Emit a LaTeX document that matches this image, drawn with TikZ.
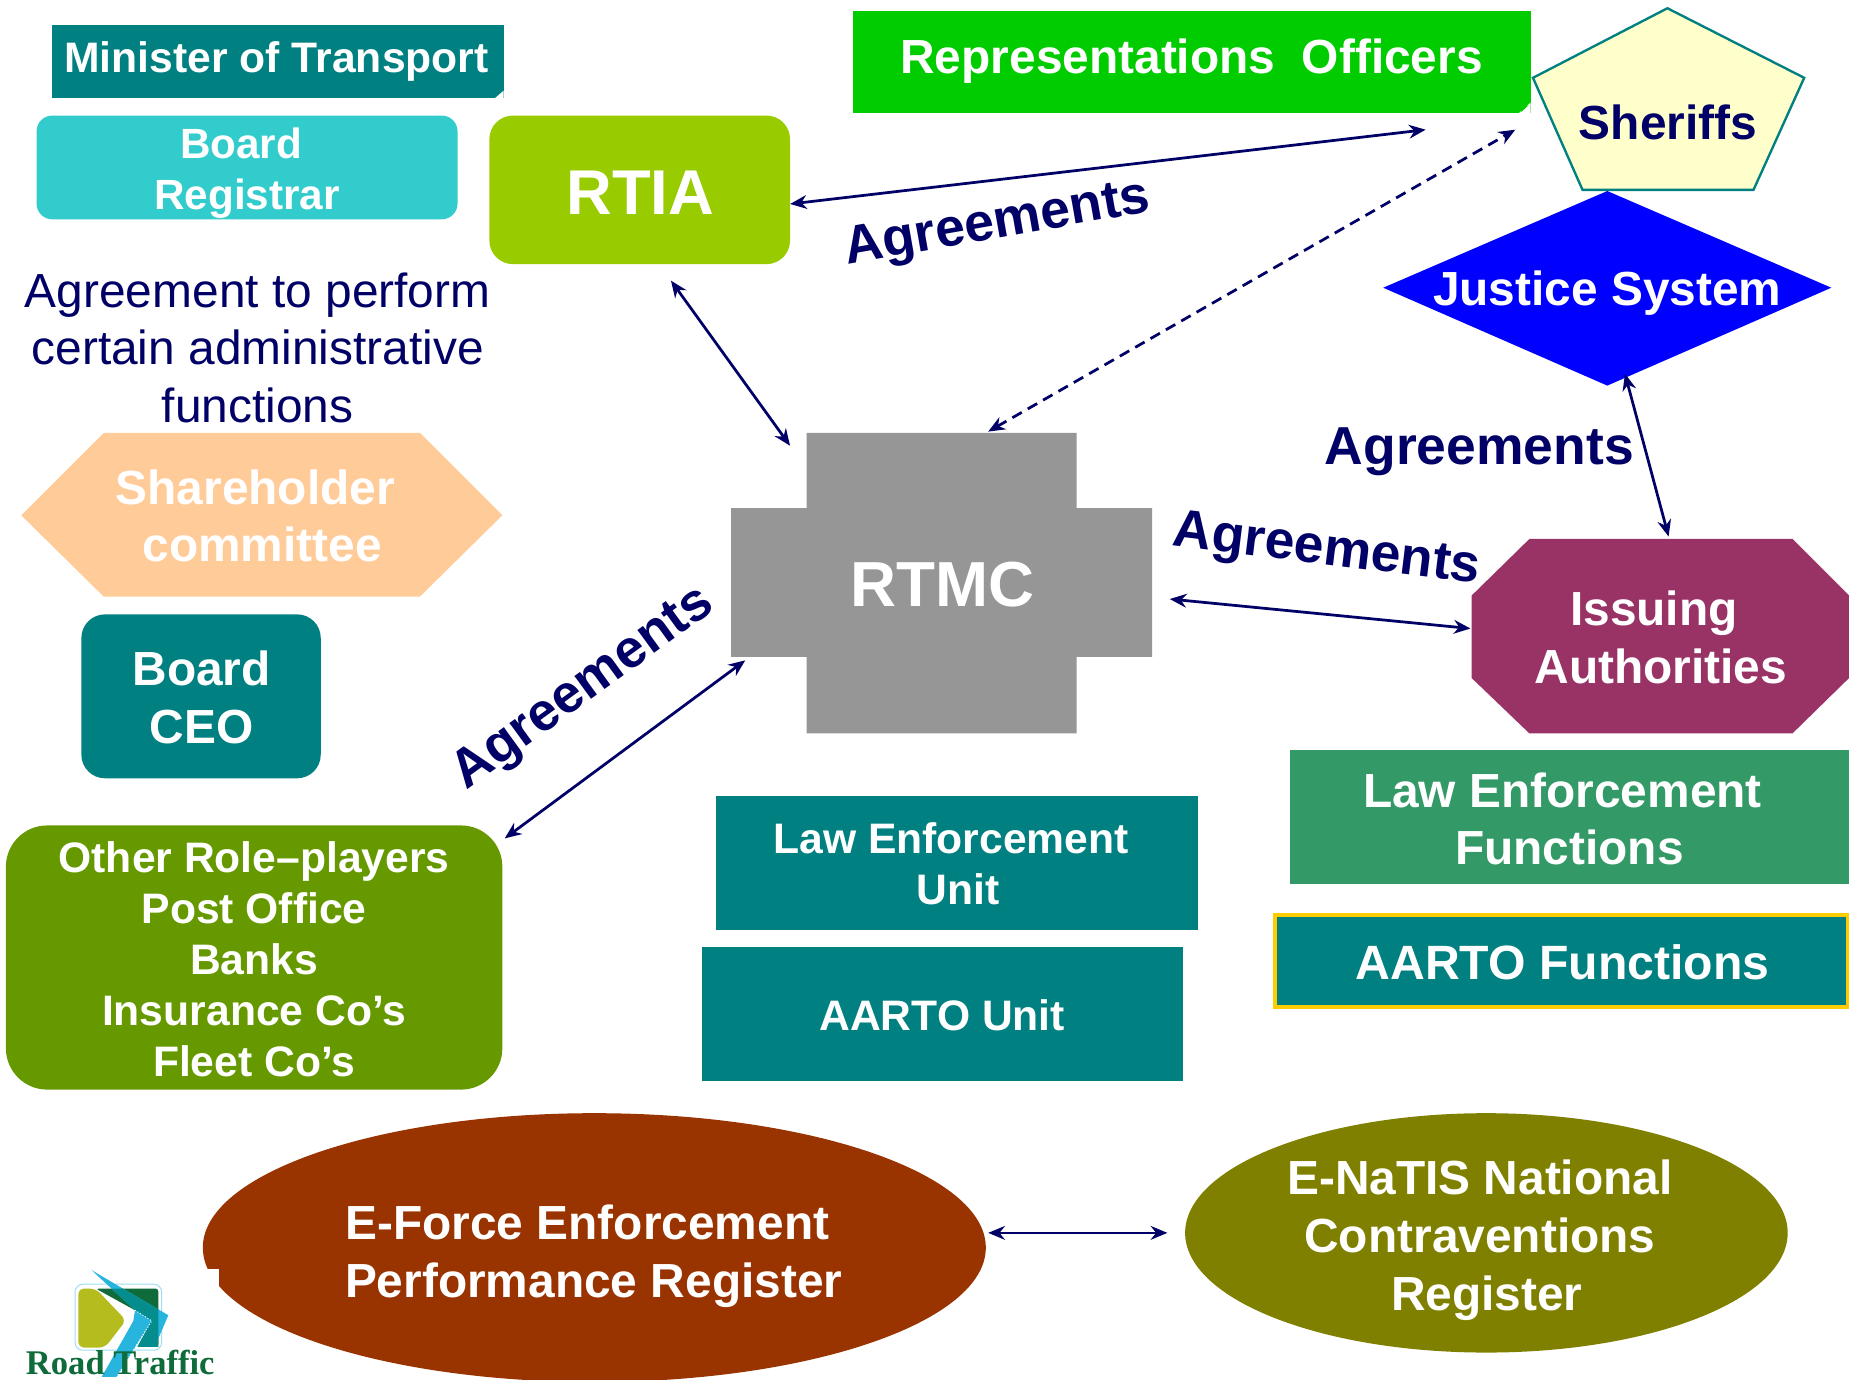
\documentclass[tikz,border=0pt]{standalone}
\usepackage{fontspec}
\setmainfont{Liberation Sans}
\newfontfamily\logofont{Liberation Serif}
\usetikzlibrary{arrows.meta,shapes.geometric}
\definecolor{tealc}{HTML}{008080}
\definecolor{navyc}{HTML}{000066}
\definecolor{regc}{HTML}{33CCCC}
\definecolor{rtiac}{HTML}{99CC00}
\definecolor{repc}{HTML}{00CC00}
\definecolor{sherc}{HTML}{FFFFCC}
\definecolor{shareh}{HTML}{FFCC99}
\definecolor{grayc}{HTML}{969696}
\definecolor{issc}{HTML}{993366}
\definecolor{lawc}{HTML}{339966}
\definecolor{goldc}{HTML}{FFCC00}
\definecolor{otherc}{HTML}{669900}
\definecolor{eforce}{HTML}{993300}
\definecolor{enatis}{HTML}{808000}
\definecolor{logolime}{HTML}{B5BD1E}
\definecolor{logodark}{HTML}{0F6B3A}
\definecolor{logocyan}{HTML}{27B5DE}
\definecolor{logoteal}{HTML}{058C8C}
\newcommand{\fsz}[2]{\fontsize{#1}{#2}\selectfont}
\tikzset{
  sz/.style 2 args={minimum width=#1*0.6pt,minimum height=#2*0.6pt,inner sep=0pt,outer sep=0pt},
  wt/.style={text=white,font=\bfseries\fsz{24.35}{29.4},align=center,inner sep=0pt},
  wts/.style={text=white,font=\bfseries\fsz{21.7}{26},align=center,inner sep=0pt},
  agr/.style={text=navyc,font=\bfseries\fsz{27.2}{32},inner sep=0pt},
  link/.style={draw=navyc,line width=1.4pt,{Stealth[length=8.5pt,width=7pt]}-{Stealth[length=8.5pt,width=7pt]}},
}
\begin{document}
\begin{tikzpicture}[x=0.6pt,y=-0.6pt]
\useasboundingbox (0,0) rectangle (1568,1170.2);
\begin{scope}
\clip (0,0) rectangle (1568,1170.2);
% boxes
\node[sz={383}{62},fill=tealc] (minister) at (235.5,52) {};
\fill[white] (420,83) -- (427,83) -- (427,77) -- cycle;
\node[sz={357}{88},fill=regc,rounded corners=8pt] (registrar) at (209.5,142) {};
\node[sz={255}{126},fill=rtiac,rounded corners=12pt] (rtia) at (542.5,161) {};
\node[sz={575}{87},fill=repc] (reps) at (1010.5,52.5) {};
\fill[white] (1288,96) -- (1298,96) -- (1298,87) -- cycle;
\fill[repc] (1290,95) -- (1296,89.5) -- (1291,90.5) -- cycle;
\draw[draw=tealc,line width=1.2pt,fill=sherc] (1414,7) -- (1530,66) -- (1487,161) -- (1342,161) -- (1300,66) -- cycle;
\fill[blue] (1363,162) -- (1553,244) -- (1363,327) -- (1173,244) -- cycle;
\fill[shareh] (18,437) -- (88,367) -- (356,367) -- (426,437) -- (356,506) -- (88,506) -- cycle;
\node[sz={203}{139},fill=tealc,rounded corners=12pt] (ceo) at (170.5,590.5) {};
\fill[grayc] (684,367) -- (913,367) -- (913,431) -- (977,431) -- (977,557) -- (913,557) -- (913,622) -- (684,622) -- (684,557) -- (620,557) -- (620,431) -- (684,431) -- cycle;
\fill[issc] (1297,457) -- (1520,457) -- (1568,505) -- (1568,575) -- (1520,622) -- (1297,622) -- (1248,575) -- (1248,505) -- cycle;
\node[sz={474}{114},fill=lawc] (lawfn) at (1331,693) {};
\node[sz={486}{78},fill=tealc,draw=goldc,line width=2pt] (aartofn) at (1324,815) {};
\node[sz={409}{114},fill=tealc] (lawunit) at (811.5,732) {};
\node[sz={408}{114},fill=tealc] (aartounit) at (799,860) {};
\node[sz={421}{224},fill=otherc,rounded corners=21pt] (other) at (215.5,812) {};
\node[ellipse,sz={664}{228},fill=eforce] (eforce) at (504,1058) {};
\node[ellipse,sz={511}{203},fill=enatis] (enatis) at (1260.5,1045.5) {};
% logo
\fill[white] (20,1076) rectangle (186,1171);
\begin{scope}[shift={(50.9,1068.7)},x=0.1696pt,y=-0.1696pt]
\draw[draw=logocyan!45,line width=0.5pt,rounded corners=4pt] (45,72) rectangle (305,270);
\fill[logolime,rounded corners=3pt] (55,85) -- (107,85) -- (198,180) -- (135,262) -- (55,262) -- cycle;
\fill[logodark,rounded corners=1.5pt] (107,85) -- (295,85) -- (295,260) -- (232,260) -- (275,182) -- (225,150) -- cycle;
\fill[logocyan] (95,30) -- (325,165) -- (295,235) -- (275,182) -- (225,150) -- cycle;
\fill[logoteal] (155,85) -- (188,85) -- (295,148) -- (295,260) -- (232,260) -- (275,182) -- (225,150) -- cycle;
\fill[logocyan] (225,150) -- (275,182) -- (170,350) -- (125,350) -- (220,182) -- cycle;
\draw[white,line width=0.5pt,densely dotted] (225,150) -- (275,182) -- (170,350);
\end{scope}
% texts
\node[wts] (tminister) at (234.5,52.5) {Minister of Transport};
\node[wts,font=\bfseries\fsz{21.5}{26}] (tregistrar) at (204.5,147) {Board\\\hspace*{6pt}Registrar};
\node[text=white,font=\bfseries\fsz{32.2}{36},inner sep=0pt] (trtia) at (543,163.5) {RTIA};
\node[wt] (treps) at (1010.5,52) {Representations\ \ Officers};
\node[wt,text=navyc] (tsheriffs) at (1414.5,103.5) {Sheriffs};
\node[wt] (tjustice) at (1363,249) {Justice System};
\node[text=navyc,font=\fsz{24.35}{29.4},align=center,inner sep=0pt] (tagree) at (218.5,295) {Agreement to perform\\certain administrative\\functions};
\node[wt] (tshare) at (216.5,437.5) {Shareholder\\\hspace*{7pt}committee};
\node[wt] (tceo) at (171,591.5) {Board\\CEO};
\node[text=white,font=\bfseries\fsz{32.4}{36},inner sep=0pt] (trtmc) at (799.5,495.5) {RTMC};
\node[wt] (tissuing) at (1402.5,540.5) {Issuing\\\hspace*{7pt}Authorities};
\node[wt] (tlawfn) at (1325,694.5) {Law Enforcement\\\hspace*{7pt}Functions};
\node[wt,font=\bfseries\fsz{24.5}{29.4}] (taartofn) at (1325,816) {AARTO Functions};
\node[wts] (tlawunit) at (806.5,732.5) {Law Enforcement\\\hspace*{7pt}Unit};
\node[wts] (taartounit) at (799,861) {AARTO Unit};
\node[wts] (tother) at (215.5,813.5) {Other Role–players\\Post Office\\Banks\\Insurance Co’s\\Fleet Co’s};
\node[wt] (teforce) at (498,1065) {E-Force Enforcement\\\hspace*{6.6pt}Performance Register};
\node[wt] (tenatis) at (1255,1051.5) {E-NaTIS National\\Contraventions\\\hspace*{7pt}Register};
\node[text=logodark,font=\logofont\bfseries\fsz{17.6}{20},inner sep=0pt,anchor=base] (tlogo) at (102,1166) {Road Traffic};
\node[agr,rotate=10] (agr1) at (846,191) {Agreements};
\node[agr] (agr2) at (1254.5,383) {Agreements};
\node[agr,rotate=-7] (agr3) at (1125,468) {Agreements};
\node[agr,rotate=36] (agr4) at (495,584.5) {Agreements};
% connectors
\coordinate (rtiaE) at (670,173);
\coordinate (shA) at (1209,110);
\coordinate (shB) at (1285,110);
\coordinate (rtmcN) at (838,366);
\coordinate (rtiaS) at (569,238);
\coordinate (rtmcNW) at (670,378);
\coordinate (jusS) at (1378,317);
\coordinate (issN) at (1415,455);
\coordinate (rtmcE) at (992,508);
\coordinate (issW) at (1247,533);
\coordinate (rtmcSW) at (632,560);
\coordinate (otherNE) at (428,711);
\coordinate (efE) at (838,1045.5);
\coordinate (enW) at (990,1045.5);
\draw[link] (rtiaE) -- (shA);
\draw[link,dash pattern=on 5.5pt off 3.5pt] (rtmcN) -- (shB);
\draw[link] (rtiaS) -- (rtmcNW);
\draw[link] (jusS) -- (issN);
\draw[link] (rtmcE) -- (issW);
\draw[link] (rtmcSW) -- (otherNE);
\draw[link] (efE) -- (enW);
\end{scope}
\end{tikzpicture}
\end{document}
